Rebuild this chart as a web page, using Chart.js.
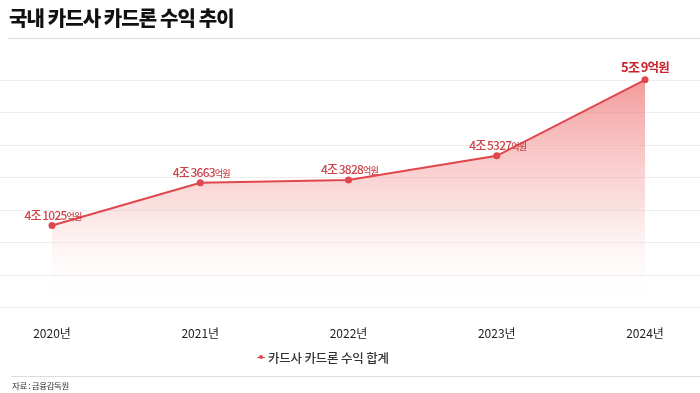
<!DOCTYPE html>
<html>
<head>
<meta charset="utf-8">
<script src="https://cdn.jsdelivr.net/npm/chart.js@4/dist/chart.umd.min.js"></script>
<style>
  html, body { margin: 0; padding: 0; background: #fff; }
  #wrap { position: relative; width: 700px; height: 393px; overflow: hidden; font-family: "Noto Sans CJK KR", "Noto Sans", sans-serif; }
  #title { position: absolute; left: 9px; top: 4px; font-size: 20px; font-weight: 800; color: #111; letter-spacing: -0.9px; line-height: 28px; }
  #sep { position: absolute; left: 8px; right: 0; top: 38px; height: 1px; background: #dcdcdc; }
  #srcline { position: absolute; left: 11px; right: 0; top: 376px; height: 1px; background: #dcdcdc; }
  #src { position: absolute; left: 12px; top: 379px; font-size: 8.5px; color: #333; letter-spacing: -0.4px; line-height: 12px; }
  #legend { position: absolute; left: 257px; top: 348px; height: 18px; display: flex; align-items: center; font-size: 12.5px; color: #333; font-weight: 500; letter-spacing: -0.2px; }
  #legend .mk { position: relative; width: 8px; height: 6px; margin-right: 3px; }
  #legend .mk:before { content: ""; position: absolute; left: 0; right: 0; top: 2.5px; height: 1.2px; background: #e0474c; }
  #legend .mk:after { content: ""; position: absolute; left: 2px; top: 1px; width: 4px; height: 4px; border-radius: 50%; background: #e0474c; }
  canvas { position: absolute; left: 0; top: 0; }
</style>
</head>
<body>
<div id="wrap">
  <canvas id="c" width="700" height="393"></canvas>
  <div id="title">국내 카드사 카드론 수익 추이</div>
  <div id="sep"></div>
  <div id="legend"><span class="mk"></span><span id="legtext"></span></div>
  <div id="srcline"></div>
  <div id="src">자료 : 금융감독원</div>
</div>
<script>
// ---- data (억원) ----
const categories = ["2020년", "2021년", "2022년", "2023년", "2024년"];
const seriesName = "카드사 카드론 수익 합계";
const revenue = [41025, 43663, 43828, 45327, 50009];
const gridValues = [36000, 38000, 40000, 42000, 44000, 46000, 48000, 50000];

const RED = "#e0474c";
const LABEL_RED = "#cc4449";
const FONT = '"Noto Sans CJK KR", "Noto Sans", sans-serif';

document.getElementById("legtext").textContent = seriesName;

function splitLabel(v) {
  const jo = Math.floor(v / 10000);
  const eok = v % 10000;
  return { jo: jo + "조", num: String(eok), unit: "억원" };
}

const fullGrid = {
  id: "fullGrid",
  beforeDatasetsDraw(chart) {
    const ctx = chart.ctx, y = chart.scales.y;
    ctx.save();
    ctx.strokeStyle = "#eeeeee";
    ctx.lineWidth = 1;
    gridValues.forEach(v => {
      const py = Math.round(y.getPixelForValue(v)) + 0.5;
      ctx.beginPath(); ctx.moveTo(0, py); ctx.lineTo(chart.width, py); ctx.stroke();
    });
    ctx.restore();
  }
};

const valueLabels = {
  id: "valueLabels",
  afterDatasetsDraw(chart) {
    const ctx = chart.ctx;
    const meta = chart.getDatasetMeta(0);
    ctx.save();
    ctx.textBaseline = "alphabetic";
    meta.data.forEach((pt, i) => {
      const last = i === revenue.length - 1;
      const p = splitLabel(revenue[i]);
      const mainFont = (last ? "700 13px " : "500 12px ") + FONT;
      const unitFont = (last ? "700 12.5px " : "500 9px ") + FONT;
      const gap = 1.5;
      ctx.letterSpacing = last ? "-0.8px" : "-0.8px";
      ctx.font = mainFont;
      const wJo = ctx.measureText(p.jo).width;
      const wNum = ctx.measureText(p.num).width;
      ctx.font = unitFont;
      const wUnit = ctx.measureText(p.unit).width;
      const total = wJo + gap + wNum + wUnit;
      const x0 = pt.x - total / 2 + (last ? 0 : 1);
      const yb = pt.y - (last ? 8 : 6);
      ctx.fillStyle = last ? "#c8242c" : LABEL_RED;
      ctx.font = mainFont;
      ctx.fillText(p.jo, x0, yb);
      ctx.fillText(p.num, x0 + wJo + gap, yb);
      ctx.font = unitFont;
      ctx.fillText(p.unit, x0 + wJo + gap + wNum, yb);
    });
    ctx.restore();
  }
};

const ctx = document.getElementById("c").getContext("2d");
new Chart(ctx, {
  type: "line",
  data: {
    labels: categories,
    datasets: [{
      label: seriesName,
      data: revenue,
      borderColor: RED,
      borderWidth: 2,
      pointStyle: "circle",
      pointRadius: 3.5,
      pointBackgroundColor: RED,
      pointBorderColor: RED,
      pointBorderWidth: 0,
      tension: 0,
      clip: false,
      fill: "start",
      backgroundColor(context) {
        const chart = context.chart;
        const area = chart.chartArea;
        if (!area) return "rgba(240,140,140,0.4)";
        const g = chart.ctx.createLinearGradient(0, area.top, 0, area.bottom);
        g.addColorStop(0, "rgba(238,115,115,0.72)");
        g.addColorStop(0.55, "rgba(245,165,165,0.35)");
        g.addColorStop(1, "rgba(255,255,255,0)");
        return g;
      }
    }]
  },
  options: {
    responsive: false,
    animation: false,
    layout: { padding: { top: 80, left: 52, right: 55, bottom: 33.6 } },
    scales: {
      x: {
        grid: { display: false, drawTicks: false },
        border: { display: false },
        ticks: { color: "#222", font: { family: FONT, size: 12, weight: "400" }, padding: 19 }
      },
      y: {
        display: false,
        min: 36000,
        max: 50000
      }
    },
    plugins: {
      legend: { display: false },
      tooltip: { enabled: false },
      title: { display: false }
    }
  },
  plugins: [fullGrid, valueLabels]
});
</script>
</body>
</html>
